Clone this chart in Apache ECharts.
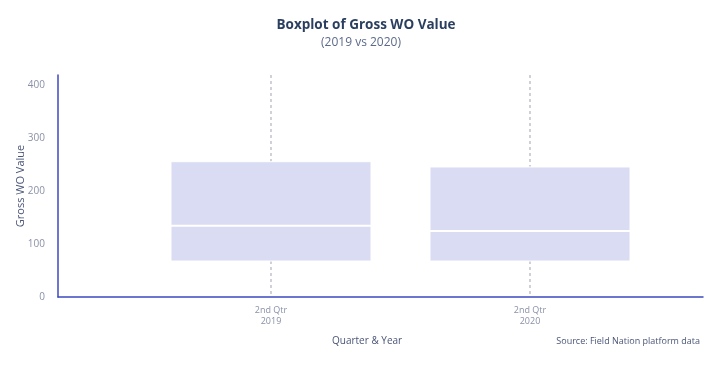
<!DOCTYPE html>
<html>
<head>
<meta charset="utf-8">
<script src="https://cdn.jsdelivr.net/npm/echarts@6/dist/echarts.min.js"></script>
<style>
  html, body { margin: 0; padding: 0; background: #fff; }
  #chart { width: 711px; height: 375px; }
</style>
</head>
<body>
<div id="chart"></div>
<script>
// quarters on the x axis and their position on the value scale
const categories = ['2nd Qtr\n2019', '2nd Qtr\n2020'];
const xPos = [0, 1];
// box stats
const q1 = [68, 68];
const median = [135, 125];
const q3 = [256, 246];
const yTicks = [0, 100, 200, 300, 400];

const font = 'Open Sans';
const chart = echarts.init(document.getElementById('chart'));

const boxData = xPos.map((x, i) => [x, q1[i], median[i], q3[i]]);
const Y_MAX = 420;

chart.setOption({
  animation: false,
  textStyle: { fontFamily: font },
  title: [{
    text: 'Boxplot of Gross WO Value',
    left: 361,
    textAlign: 'center',
    top: 13,
    textStyle: { fontFamily: font, fontSize: 13.5, fontWeight: 'bold', color: '#2a3f5f' }
  }, {
    text: '(2019 vs 2020)',
    left: 356,
    textAlign: 'center',
    top: 32,
    textStyle: { fontFamily: font, fontSize: 12, fontWeight: 'normal', color: '#5c6a8a' }
  }],
  grid: { left: 58, right: 8, top: 75, bottom: 78, outerBoundsMode: 'none' },
  xAxis: {
    type: 'value',
    min: -0.8224,
    max: 1.668,
    axisLine: { show: true, onZero: false, lineStyle: { color: '#3d4ac0', width: 1.5 } },
    axisTick: { show: false },
    splitLine: { show: false },
    axisLabel: {
      customValues: xPos,
      formatter: v => categories[Math.round(v)],
      color: '#8a90a8',
      fontSize: 9,
      lineHeight: 11,
      margin: 8
    }
  },
  yAxis: {
    type: 'value',
    min: 0,
    max: Y_MAX,
    interval: 100,
    name: 'Gross WO Value',
    nameLocation: 'middle',
    nameGap: 32,
    nameMoveOverlap: false,
    nameTextStyle: { color: '#4a5578', fontSize: 11 },
    axisLine: { show: true, onZero: false, lineStyle: { color: '#3d4ac0', width: 1.5 } },
    axisTick: { show: false },
    splitLine: { show: false },
    axisLabel: {
      showMaxLabel: false,
      color: '#8a90a8',
      fontSize: 10,
      margin: 13,
      formatter: v => (yTicks.includes(v) ? String(v) : '')
    }
  },
  graphic: [
    { type: 'text', left: 332, top: 336, style: { text: 'Quarter & Year', font: '10px "Open Sans"', fill: '#4a5578' } },
    { type: 'text', right: 11, top: 337, style: { text: 'Source: Field Nation platform data', font: '9px "Open Sans"', fill: '#4a5578' } }
  ],
  series: [{
    type: 'custom',
    data: boxData,
    encode: { x: 0, y: [1, 2, 3] },
    renderItem: (params, api) => {
      const x = api.value(0);
      const lo = api.coord([x, api.value(1)]);
      const md = api.coord([x, api.value(2)]);
      const hi = api.coord([x, api.value(3)]);
      const top = api.coord([x, Y_MAX]);
      const half = 100;
      return {
        type: 'group',
        children: [
          {
            type: 'line',
            shape: { x1: top[0], y1: top[1], x2: lo[0], y2: api.coord([x, 0])[1] },
            style: { stroke: '#a0a4b0', lineWidth: 1, lineDash: [3, 3] }
          },
          {
            type: 'rect',
            shape: { x: hi[0] - half, y: hi[1], width: half * 2, height: lo[1] - hi[1] },
            style: { fill: '#dadcf3', stroke: '#ffffff', lineWidth: 1 }
          },
          {
            type: 'line',
            shape: { x1: md[0] - half, y1: md[1], x2: md[0] + half, y2: md[1] },
            style: { stroke: '#ffffff', lineWidth: 2 }
          }
        ]
      };
    }
  }]
});
</script>
</body>
</html>
